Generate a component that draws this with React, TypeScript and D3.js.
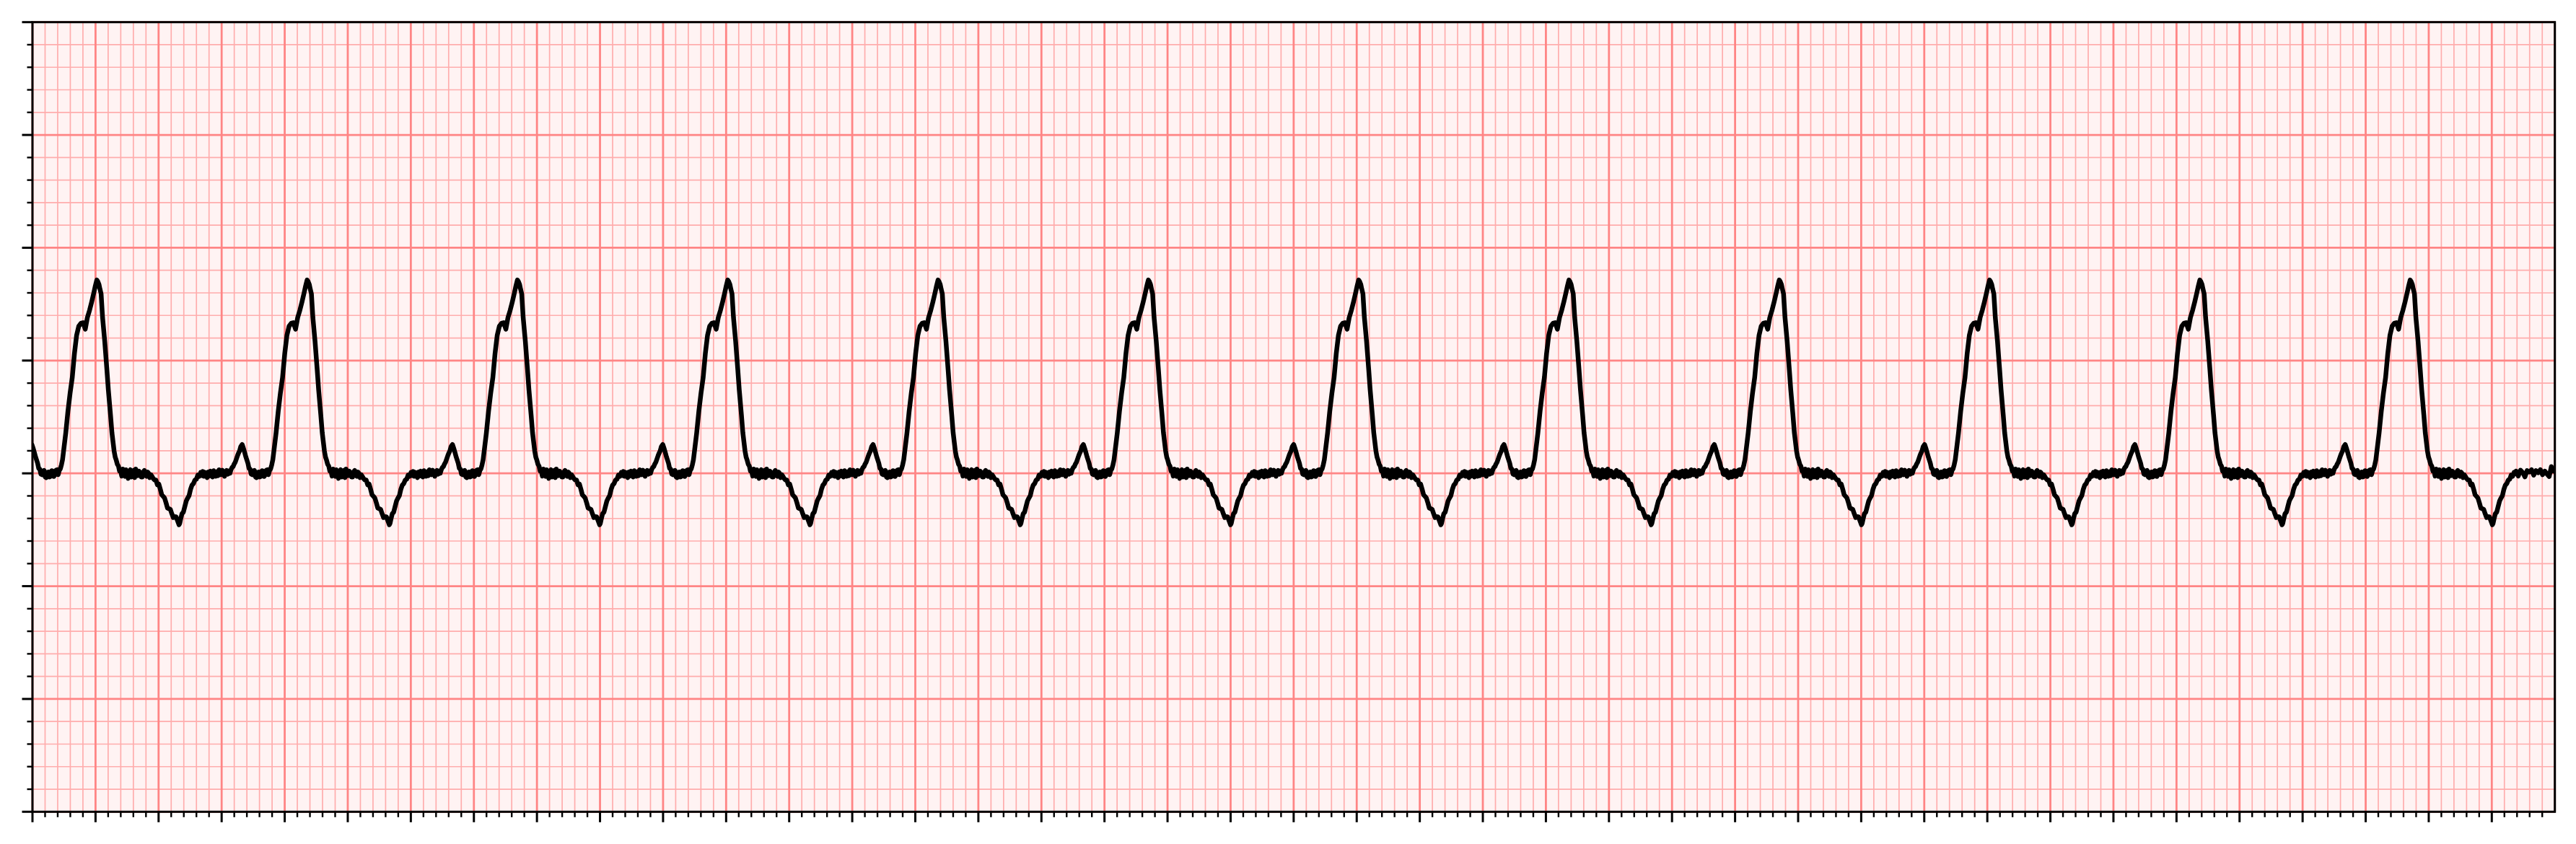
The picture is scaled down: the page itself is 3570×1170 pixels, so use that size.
import React from 'react';
import * as d3 from 'd3';

// ---- Data ----
// Axis ranges: time in seconds, amplitude in mV
const xDomain: [number, number] = [0, 8];
const yDomain: [number, number] = [-1.5, 2.0];
const xMajorStep = 0.2;
const xMinorStep = 0.04;
const yMajorStep = 0.5;
const yMinorStep = 0.1;

// R-peak times (s)
const beatPeaks = [0.204, 0.871, 1.538, 2.205, 2.872, 3.539, 4.206, 4.873, 5.540, 6.207, 6.874, 7.541];

// One heartbeat, time relative to R peak (ms), amplitude (mV)
const beatTemplateMs = [
  -334.1, -330.7, -327.3, -323.9, -320.4, -317.0, -313.5, -310.1, -306.7, -303.3,
  -299.8, -296.4, -292.9, -289.5, -286.1, -282.6, -279.2, -275.8, -272.3, -268.9,
  -265.5, -262.0, -258.6, -255.2, -251.7, -248.3, -244.9, -241.4, -238.0, -234.6,
  -231.1, -227.7, -224.3, -220.8, -217.4, -214.0, -210.6, -206.0, -201.4, -197.9,
  -194.5, -191.1, -187.7, -184.2, -180.8, -177.4, -173.9, -170.5, -167.1, -163.6,
  -160.2, -156.8, -153.3, -149.9, -146.5, -143.0, -139.6, -136.2, -132.7, -129.3,
  -125.9, -122.4, -119.0, -115.6, -112.1, -108.7, -105.3, -98.4, -91.5, -84.7,
  -77.8, -70.9, -64.1, -57.2, -50.3, -43.5, -36.6, -29.8, -22.9, -16.0,
  -9.2, -4.6,
  0,
  3.4, 6.9, 10.3, 13.7, 18.3, 25.2, 32.0, 36.6, 43.5, 48.1,
  54.9, 58.4, 61.8, 65.2, 68.7, 72.1, 75.5, 79.0, 82.4, 85.8,
  89.3, 92.7, 96.1, 99.6, 103.0, 106.4, 109.9, 113.3, 116.7, 120.2,
  123.6, 127.0, 130.4, 133.9, 137.3, 140.7, 144.2, 147.6, 151.0, 154.5,
  157.9, 161.3, 164.8, 168.2, 171.6, 175.1, 178.5, 183.1, 187.7, 192.2,
  196.8, 201.4, 206.0, 210.6, 215.1, 219.7, 224.3, 228.9, 233.4, 238.0,
  242.6, 247.2, 251.7, 256.3, 260.9, 263.2, 265.5, 270.1, 274.6, 279.2,
  283.8, 288.4, 292.9, 297.5, 302.1, 306.7, 311.2, 315.8, 320.4, 325.0,
  329.6, 331.8,
];
const beatTemplateMv = [
  -0.010, 0.008, -0.013, 0.004, -0.003, -0.019, 0.006, -0.012, 0.010, -0.004,
  -0.016, 0.012, 0.003, -0.013, 0.008, -0.010, 0.016, 0.002, -0.006, 0.014,
  0.006, -0.013, 0.004, 0.013, -0.004, 0.010, 0.000, 0.016, 0.026, 0.030,
  0.042, 0.050, 0.064, 0.078, 0.090, 0.100, 0.118, 0.128, 0.109, 0.092,
  0.074, 0.060, 0.045, 0.022, 0.019, -0.003, -0.006, 0.010, 0.013, -0.016,
  -0.019, 0.004, 0.006, -0.016, -0.013, 0.012, 0.010, -0.014, -0.006, 0.014,
  0.016, -0.006, 0.013, 0.020, 0.038, 0.060, 0.099, 0.179, 0.275, 0.355,
  0.425, 0.531, 0.611, 0.652, 0.665, 0.668, 0.639, 0.691, 0.723, 0.761,
  0.802, 0.831,
  0.857,
  0.850, 0.838, 0.815, 0.796, 0.691, 0.585, 0.460, 0.371, 0.259, 0.179,
  0.099, 0.072, 0.058, 0.040, 0.032, 0.010, 0.013, -0.012, 0.019, -0.006,
  -0.013, 0.016, -0.003, -0.022, 0.010, 0.016, -0.016, -0.006, 0.013, -0.019,
  0.019, 0.000, -0.010, 0.010, 0.003, -0.016, -0.016, 0.006, 0.013, -0.010,
  -0.013, 0.006, 0.000, -0.019, -0.006, -0.013, -0.022, -0.029, -0.030, -0.051,
  -0.048, -0.070, -0.095, -0.102, -0.110, -0.131, -0.154, -0.157, -0.160, -0.179,
  -0.196, -0.192, -0.193, -0.211, -0.228, -0.221, -0.206, -0.179, -0.172, -0.147,
  -0.122, -0.109, -0.098, -0.070, -0.052, -0.045, -0.030, -0.026, -0.008, -0.013,
  0.004, -0.003,
];

// Baseline after the last beat, up to the right edge (s, mV)
const tailTimes = [7.877, 7.884, 7.891, 7.898, 7.905, 7.912, 7.919, 7.926, 7.933, 7.940, 7.947, 7.954, 7.961, 7.968, 7.975, 7.982, 7.989, 7.996, 8.003];
const tailMv = [0.010, -0.012, 0.014, 0.004, -0.016, 0.012, 0.006, 0.016, -0.008, 0.012, 0.003, 0.016, -0.006, 0.010, -0.003, -0.014, 0.030, 0.010, 0.020];

// ---- Layout ----
const W = 3570;
const H = 1170;
const margin = { left: 45, top: 30.7, right: 29.3, bottom: 44.7 };
const innerW = W - margin.left - margin.right;
const innerH = H - margin.top - margin.bottom;

const MAJOR_GRID = '#ff8585';
const MINOR_GRID = '#ffadad';
const BG = '#fff3f3';

export default function App() {
  const x = d3.scaleLinear().domain(xDomain).range([0, innerW]);
  const y = d3.scaleLinear().domain(yDomain).range([innerH, 0]);

  const nXMinor = Math.round((xDomain[1] - xDomain[0]) / xMinorStep);
  const nYMinor = Math.round((yDomain[1] - yDomain[0]) / yMinorStep);
  const xPerMajor = Math.round(xMajorStep / xMinorStep);
  const yPerMajor = Math.round(yMajorStep / yMinorStep);

  const xMinorVals = d3.range(0, nXMinor + 1).map((i) => ({ v: xDomain[0] + i * xMinorStep, major: i % xPerMajor === 0, i }));
  const yMinorVals = d3.range(0, nYMinor + 1).map((i) => ({ v: yDomain[0] + i * yMinorStep, major: i % yPerMajor === 0, i }));

  const points: [number, number][] = [];
  beatPeaks.forEach((p) => {
    beatTemplateMs.forEach((t, k) => {
      points.push([p + t / 1000, beatTemplateMv[k]]);
    });
  });
  tailTimes.forEach((t, k) => points.push([t, tailMv[k]]));

  const line = d3
    .line<[number, number]>()
    .x((d) => x(d[0]))
    .y((d) => y(d[1]));

  return (
    <svg width={W} height={H} style={{ position: 'absolute', left: 0, top: 0, background: '#ffffff' }}>
      <defs>
        <clipPath id="plotClip">
          <rect x={0} y={0} width={innerW} height={innerH} />
        </clipPath>
      </defs>
      <g transform={`translate(${margin.left},${margin.top})`}>
        <rect x={0} y={0} width={innerW} height={innerH} fill={BG} />
        {/* minor grid */}
        {xMinorVals.filter((d) => !d.major).map((d) => (
          <line key={`xm${d.i}`} x1={x(d.v)} x2={x(d.v)} y1={0} y2={innerH} stroke={MINOR_GRID} strokeWidth={1.7} />
        ))}
        {yMinorVals.filter((d) => !d.major).map((d) => (
          <line key={`ym${d.i}`} x1={0} x2={innerW} y1={y(d.v)} y2={y(d.v)} stroke={MINOR_GRID} strokeWidth={1.7} />
        ))}
        {/* major grid */}
        {xMinorVals.filter((d) => d.major).map((d) => (
          <line key={`xM${d.i}`} x1={x(d.v)} x2={x(d.v)} y1={0} y2={innerH} stroke={MAJOR_GRID} strokeWidth={2.8} />
        ))}
        {yMinorVals.filter((d) => d.major).map((d) => (
          <line key={`yM${d.i}`} x1={0} x2={innerW} y1={y(d.v)} y2={y(d.v)} stroke={MAJOR_GRID} strokeWidth={2.8} />
        ))}
        {/* ECG trace */}
        <g clipPath="url(#plotClip)">
          <path d={line(points) || ''} fill="none" stroke="#000000" strokeWidth={6.5} strokeLinejoin="round" strokeLinecap="round" />
        </g>
        {/* spines */}
        <rect x={0} y={0} width={innerW} height={innerH} fill="none" stroke="#000000" strokeWidth={3} />
        {/* left ticks */}
        {yMinorVals.map((d) => (
          <line key={`yt${d.i}`} x1={d.major ? -14.5 : -7.5} x2={0} y1={y(d.v)} y2={y(d.v)} stroke="#000000" strokeWidth={d.major ? 3 : 2.4} />
        ))}
        {/* bottom ticks (no tick at the right end) */}
        {xMinorVals.filter((d) => d.i < nXMinor).map((d) => (
          <line key={`xt${d.i}`} x1={x(d.v)} x2={x(d.v)} y1={innerH} y2={innerH + (d.major ? 14.5 : 7.5)} stroke="#000000" strokeWidth={d.major ? 3 : 2.4} />
        ))}
      </g>
    </svg>
  );
}
